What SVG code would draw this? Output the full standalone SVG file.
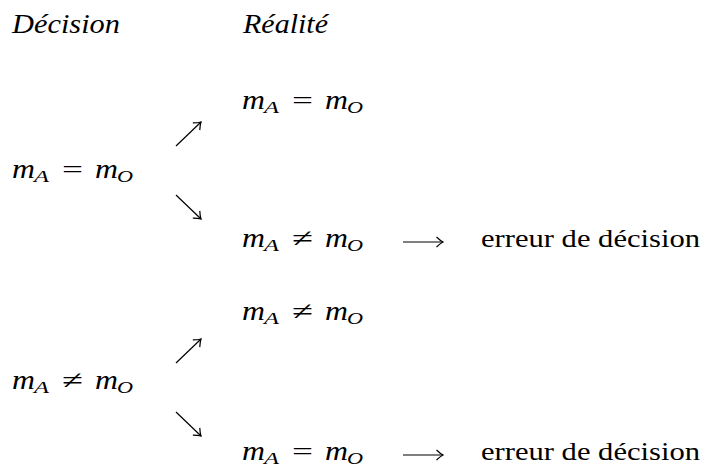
<svg xmlns="http://www.w3.org/2000/svg" width="703" height="475" viewBox="0 0 703 475">
<style>
text{font-family:"Liberation Serif","DejaVu Serif",serif;fill:#000}
.h{font-size:27px;font-style:italic}
.mi{font-size:27px;font-style:italic}
.rel{font-size:26px}
.s{font-size:16px;font-style:italic}
.t{font-size:26px}
.c{stroke:#000;stroke-width:1.2;fill:none}
</style>
<defs>
<marker id="ah" viewBox="-8 -6 10 12" refX="0" refY="0" markerWidth="10" markerHeight="12" markerUnits="userSpaceOnUse" orient="auto">
<path d="M-6.5,-5 Q-2.5,-1.2 0,0 Q-2.5,1.2 -6.5,5" fill="none" stroke="#000" stroke-width="1.2"/>
</marker>
</defs>
<rect width="703" height="475" fill="#fff"/>
<g id="headers">
<text class="h" x="12" y="33" textLength="108" lengthAdjust="spacingAndGlyphs">Décision</text>
<text class="h" x="243" y="33" textLength="85" lengthAdjust="spacingAndGlyphs">Réalité</text>
</g>
<g id="u_right1">
<text class="mi" x="242" y="109" textLength="23" lengthAdjust="spacingAndGlyphs">m</text>
<text class="s" x="264" y="113" textLength="15" lengthAdjust="spacingAndGlyphs">A</text>
<text class="rel" x="292" y="109" textLength="21" lengthAdjust="spacingAndGlyphs">=</text>
<text class="mi" x="325" y="109" textLength="23" lengthAdjust="spacingAndGlyphs">m</text>
<text class="s" x="347" y="113" textLength="16" lengthAdjust="spacingAndGlyphs">O</text>
</g>
<g id="u_left">
<text class="mi" x="12" y="178" textLength="23" lengthAdjust="spacingAndGlyphs">m</text>
<text class="s" x="34" y="182" textLength="15" lengthAdjust="spacingAndGlyphs">A</text>
<text class="rel" x="62" y="178" textLength="21" lengthAdjust="spacingAndGlyphs">=</text>
<text class="mi" x="95" y="178" textLength="23" lengthAdjust="spacingAndGlyphs">m</text>
<text class="s" x="117" y="182" textLength="16" lengthAdjust="spacingAndGlyphs">O</text>
</g>
<g id="u_right2">
<text class="mi" x="242" y="247" textLength="23" lengthAdjust="spacingAndGlyphs">m</text>
<text class="s" x="264" y="251" textLength="15" lengthAdjust="spacingAndGlyphs">A</text>
<text class="rel" x="292" y="247" textLength="21" lengthAdjust="spacingAndGlyphs">≠</text>
<text class="mi" x="325" y="247" textLength="23" lengthAdjust="spacingAndGlyphs">m</text>
<text class="s" x="347" y="251" textLength="16" lengthAdjust="spacingAndGlyphs">O</text>
</g>
<g id="u_err">
<text class="t" x="481" y="247" textLength="219" lengthAdjust="spacingAndGlyphs">erreur de décision</text>
</g>
<g id="l_right1">
<text class="mi" x="242" y="320" textLength="23" lengthAdjust="spacingAndGlyphs">m</text>
<text class="s" x="264" y="324" textLength="15" lengthAdjust="spacingAndGlyphs">A</text>
<text class="rel" x="292" y="320" textLength="21" lengthAdjust="spacingAndGlyphs">≠</text>
<text class="mi" x="325" y="320" textLength="23" lengthAdjust="spacingAndGlyphs">m</text>
<text class="s" x="347" y="324" textLength="16" lengthAdjust="spacingAndGlyphs">O</text>
</g>
<g id="l_left">
<text class="mi" x="12" y="389" textLength="23" lengthAdjust="spacingAndGlyphs">m</text>
<text class="s" x="34" y="393" textLength="15" lengthAdjust="spacingAndGlyphs">A</text>
<text class="rel" x="62" y="389" textLength="21" lengthAdjust="spacingAndGlyphs">≠</text>
<text class="mi" x="95" y="389" textLength="23" lengthAdjust="spacingAndGlyphs">m</text>
<text class="s" x="117" y="393" textLength="16" lengthAdjust="spacingAndGlyphs">O</text>
</g>
<g id="l_right2">
<text class="mi" x="242" y="460" textLength="23" lengthAdjust="spacingAndGlyphs">m</text>
<text class="s" x="264" y="464" textLength="15" lengthAdjust="spacingAndGlyphs">A</text>
<text class="rel" x="292" y="460" textLength="21" lengthAdjust="spacingAndGlyphs">=</text>
<text class="mi" x="325" y="460" textLength="23" lengthAdjust="spacingAndGlyphs">m</text>
<text class="s" x="347" y="464" textLength="16" lengthAdjust="spacingAndGlyphs">O</text>
</g>
<g id="l_err">
<text class="t" x="481" y="460" textLength="219" lengthAdjust="spacingAndGlyphs">erreur de décision</text>
</g>
<g id="connectors">
<path class="c" d="M176,146 L201,122" marker-end="url(#ah)"/>
<path class="c" d="M176,195 L201,219" marker-end="url(#ah)"/>
<path class="c" d="M403,242 L443,242" marker-end="url(#ah)"/>
<path class="c" d="M176,363 L201,339" marker-end="url(#ah)"/>
<path class="c" d="M176,412 L201,436" marker-end="url(#ah)"/>
<path class="c" d="M403,455 L443,455" marker-end="url(#ah)"/>
</g>
</svg>
